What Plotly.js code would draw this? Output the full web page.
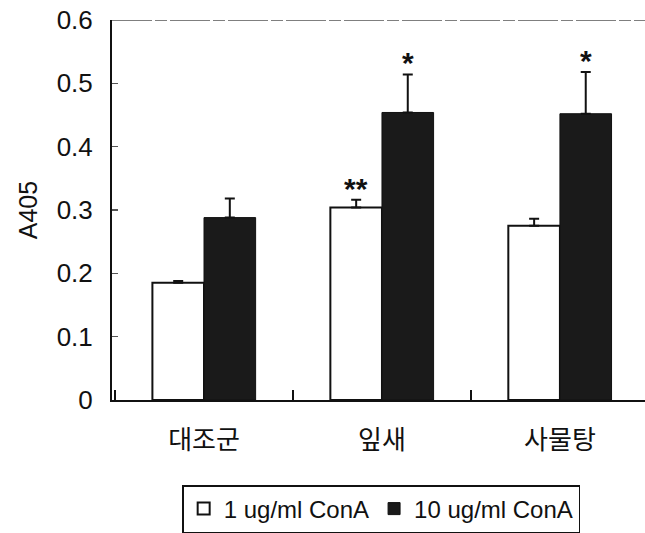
<!DOCTYPE html>
<html>
<head>
<meta charset="utf-8">
<script src="https://cdn.plot.ly/plotly-3.0.1.min.js"></script>
<style>
  html, body { margin: 0; padding: 0; background: #fff; }
  #chart { width: 645px; height: 533px; }
</style>
</head>
<body>
<div id="chart"></div>
<script>
// Groups along the x axis
const groups = ['대조군', '잎새', '사물탕'];

// A405 at 1 ug/ml ConA, with upper error
const low = [0.185, 0.304, 0.275];
const lowErr = [0.003, 0.012, 0.011];
const lowSig = ['', '**', ''];

// A405 at 10 ug/ml ConA, with upper error
const high = [0.288, 0.454, 0.452];
const highErr = [0.030, 0.060, 0.066];
const highSig = ['', '*', '*'];

const yTicks = [0, 0.1, 0.2, 0.3, 0.4, 0.5, 0.6];
const yTickText = ['0', '0.1', '0.2', '0.3', '0.4', '0.5', '0.6'];

const latin = 'Liberation Sans, Arial, sans-serif';
const hangul = 'Noto Sans CJK KR, sans-serif';

const barW = 0.29;

function errBar(vals) {
  return {
    type: 'data', symmetric: false, array: vals,
    arrayminus: vals.map(() => 0),
    color: '#111', thickness: 2, width: 5
  };
}

const traces = [
  {
    type: 'bar', name: '1 ug/ml ConA', x: groups, y: low,
    marker: { color: '#ffffff', line: { color: '#111', width: 2 } },
    error_y: errBar(lowErr)
  },
  {
    type: 'bar', name: '10 ug/ml ConA', x: groups, y: high,
    marker: { color: '#1a1a1a', line: { color: '#111', width: 1 } },
    error_y: errBar(highErr)
  }
];

// significance marks sit on top of each error bar
const annotations = [];
function addSig(sig, vals, errs, shift) {
  sig.forEach((s, i) => {
    if (!s) return;
    annotations.push({
      x: i + shift, y: vals[i] + errs[i], xref: 'x', yref: 'y',
      text: '<b>' + s + '</b>', showarrow: false, yanchor: 'bottom', yshift: -7,
      font: { family: latin, size: 30, color: '#111' }
    });
  });
}
addSig(lowSig, low, lowErr, -barW / 2);
addSig(highSig, high, highErr, barW / 2);

const layout = {
  width: 645, height: 533,
  margin: { l: 112, r: 0, t: 20, b: 133 },
  paper_bgcolor: '#fff', plot_bgcolor: '#fff',
  barmode: 'group', bargap: 0.42, bargroupgap: 0,
  showlegend: true,
  legend: {
    orientation: 'h', x: 0.505, xanchor: 'center', y: -0.225, yanchor: 'top',
    bordercolor: '#111', borderwidth: 1.5, bgcolor: '#fff',
    font: { family: latin, size: 24, color: '#111' },
    itemwidth: 30, tracegroupgap: 0
  },
  xaxis: {
    type: 'category', range: [-0.517, 2.478],
    showline: true, linecolor: '#111', linewidth: 2,
    ticks: 'inside', tickson: 'boundaries', ticklen: 10, tickwidth: 1.5, tickcolor: '#111',
    tickfont: { family: hangul, size: 26, color: '#111' },
    ticklabelstandoff: 16,
    showgrid: false, zeroline: false, fixedrange: true
  },
  yaxis: {
    range: [0, 0.6],
    tickvals: yTicks, ticktext: yTickText,
    showline: true, linecolor: '#111', linewidth: 2,
    ticks: 'inside', ticklen: 6, tickwidth: 1.5, tickcolor: '#555',
    tickfont: { family: latin, size: 26, color: '#111' },
    ticklabelstandoff: 12,
    title: { text: 'A405', font: { family: latin, size: 25, color: '#111' }, standoff: 12 },
    showgrid: false, zeroline: false, fixedrange: true
  },
  shapes: [{
    type: 'line', xref: 'paper', yref: 'y', x0: 0, x1: 1, y0: 0.6, y1: 0.6,
    line: { color: '#555', width: 1.5, dash: '40px,3px,12px,3px' }
  }],
  annotations: annotations
};

Plotly.newPlot('chart', traces, layout, { displayModeBar: false, staticPlot: true });
</script>
</body>
</html>
